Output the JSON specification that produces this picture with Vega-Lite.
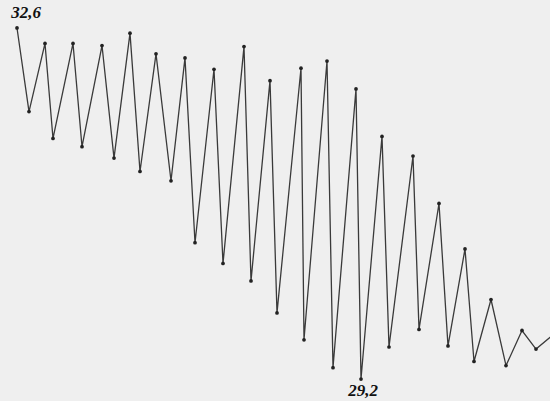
{
  "$schema": "https://vega.github.io/schema/vega-lite/v6.json",
  "width": 550,
  "height": 401,
  "autosize": {"type": "fit", "contains": "padding"},
  "padding": 0,
  "background": "#efefef",
  "config": {"view": {"stroke": null}},
  "data": {
    "values": [
      {"t": 17, "v": 32.60, "label": "32,6"},
      {"t": 29, "v": 31.79},
      {"t": 45, "v": 32.45},
      {"t": 53, "v": 31.53},
      {"t": 73, "v": 32.45},
      {"t": 82, "v": 31.45},
      {"t": 102, "v": 32.43},
      {"t": 114, "v": 31.34},
      {"t": 130, "v": 32.55},
      {"t": 140, "v": 31.21},
      {"t": 156, "v": 32.35},
      {"t": 171, "v": 31.12},
      {"t": 185, "v": 32.31},
      {"t": 195, "v": 30.52},
      {"t": 214, "v": 32.20},
      {"t": 223, "v": 30.32},
      {"t": 244, "v": 32.42},
      {"t": 251, "v": 30.15},
      {"t": 270, "v": 32.09},
      {"t": 277, "v": 29.84},
      {"t": 301, "v": 32.21},
      {"t": 304, "v": 29.58},
      {"t": 327, "v": 32.28},
      {"t": 333, "v": 29.31},
      {"t": 356, "v": 32.01},
      {"t": 361, "v": 29.20, "label": "29,2"},
      {"t": 382, "v": 31.55},
      {"t": 389, "v": 29.51},
      {"t": 413, "v": 31.36},
      {"t": 419, "v": 29.68},
      {"t": 439, "v": 30.90},
      {"t": 448, "v": 29.52},
      {"t": 465, "v": 30.46},
      {"t": 474, "v": 29.37},
      {"t": 491, "v": 29.97},
      {"t": 506, "v": 29.33},
      {"t": 522, "v": 29.67},
      {"t": 536, "v": 29.49},
      {"t": 562, "v": 29.70}
    ]
  },
  "encoding": {
    "x": {"field": "t", "type": "quantitative", "scale": {"domain": [0, 550], "nice": false, "zero": false}, "axis": null},
    "y": {"field": "v", "type": "quantitative", "scale": {"domain": [28.987, 32.871], "nice": false, "zero": false}, "axis": null}
  },
  "layer": [
    {
      "mark": {"type": "line", "color": "#3a3a3a", "strokeWidth": 1.3, "clip": true}
    },
    {
      "mark": {"type": "point", "filled": true, "color": "#222222", "size": 14, "opacity": 1, "clip": true}
    },
    {
      "transform": [{"filter": "datum.label == '32,6'"}],
      "mark": {"type": "text", "font": "Liberation Serif", "fontStyle": "italic", "fontWeight": "bold", "fontSize": 17, "color": "#111111", "dx": 9, "dy": -15, "align": "center", "baseline": "middle"},
      "encoding": {"text": {"field": "label"}}
    },
    {
      "transform": [{"filter": "datum.label == '29,2'"}],
      "mark": {"type": "text", "font": "Liberation Serif", "fontStyle": "italic", "fontWeight": "bold", "fontSize": 17, "color": "#111111", "dx": 2, "dy": 12, "align": "center", "baseline": "middle"},
      "encoding": {"text": {"field": "label"}}
    }
  ]
}
